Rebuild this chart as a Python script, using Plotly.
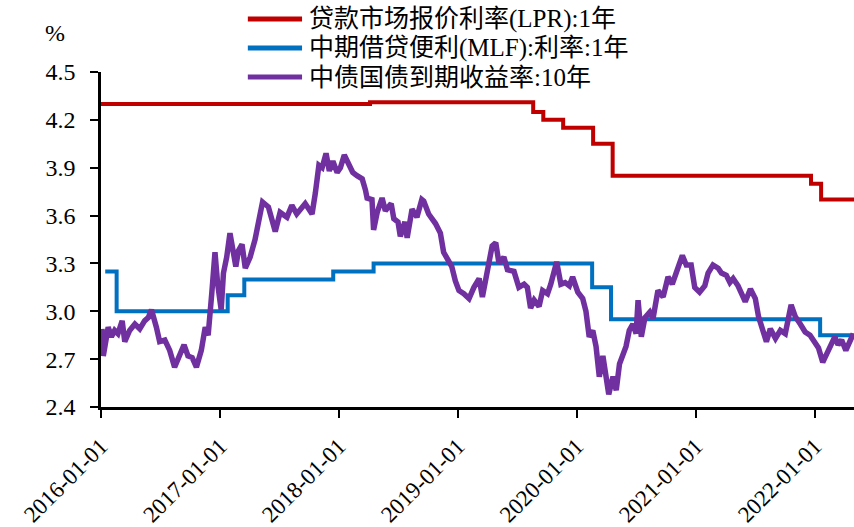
import plotly.graph_objects as go

# 贷款市场报价利率(LPR) 1年 — step series (date of change, new level)
lpr_dates = ["2016-01-01", "2018-04-06", "2019-08-20", "2019-09-20", "2019-11-20",
             "2020-02-20", "2020-04-20", "2021-12-20", "2022-01-20", "2022-05-01"]
lpr_values = [4.30, 4.31, 4.25, 4.20, 4.15, 4.05, 3.85, 3.80, 3.70, 3.70]

# 中期借贷便利(MLF) 1年 — step series
mlf_dates = ["2016-01-14", "2016-02-18", "2017-01-24", "2017-03-16", "2017-12-14",
             "2018-04-17", "2020-02-17", "2020-04-15", "2022-01-17", "2022-05-01"]
mlf_values = [3.25, 3.00, 3.10, 3.20, 3.25, 3.30, 3.15, 2.95, 2.85, 2.85]

# 中债国债到期收益率 10年
cgb_dates = [
    "2016-01-04", "2016-01-08", "2016-01-23", "2016-02-02", "2016-02-12", "2016-02-22",
    "2016-03-06", "2016-03-14", "2016-03-29", "2016-04-14", "2016-04-29", "2016-05-14",
    "2016-05-25", "2016-06-04", "2016-06-19", "2016-06-29", "2016-07-15", "2016-07-30",
    "2016-08-14", "2016-08-30", "2016-09-12", "2016-09-24", "2016-10-07", "2016-10-20",
    "2016-11-04", "2016-11-16", "2016-11-25", "2016-12-06", "2016-12-16", "2016-12-24",
    "2017-01-04", "2017-01-11", "2017-01-21", "2017-01-31", "2017-02-10", "2017-02-18",
    "2017-02-26", "2017-03-09", "2017-03-19", "2017-04-03", "2017-04-18", "2017-04-28",
    "2017-05-11", "2017-05-29", "2017-06-19", "2017-07-04", "2017-07-25", "2017-08-09",
    "2017-08-24", "2017-09-19", "2017-10-04", "2017-10-10", "2017-10-20", "2017-10-31",
    "2017-11-10", "2017-11-22", "2017-12-02", "2017-12-13", "2017-12-26", "2018-01-05",
    "2018-01-17", "2018-01-31", "2018-02-12", "2018-02-25", "2018-03-13", "2018-03-23",
    "2018-03-28", "2018-04-12", "2018-04-17", "2018-04-28", "2018-05-13", "2018-05-23",
    "2018-06-10", "2018-06-18", "2018-07-01", "2018-07-08", "2018-07-22", "2018-07-29",
    "2018-08-13", "2018-08-28", "2018-09-12", "2018-09-18", "2018-10-03", "2018-10-24",
    "2018-11-08", "2018-11-18", "2018-12-03", "2018-12-13", "2018-12-24", "2019-01-04",
    "2019-01-19", "2019-02-04", "2019-02-19", "2019-03-07", "2019-03-17", "2019-04-01",
    "2019-04-16", "2019-04-27", "2019-05-07", "2019-05-22", "2019-06-02", "2019-06-22",
    "2019-07-07", "2019-07-23", "2019-08-02", "2019-08-12", "2019-08-23", "2019-09-07",
    "2019-09-18", "2019-10-03", "2019-10-13", "2019-10-31", "2019-11-13", "2019-11-26",
    "2019-12-09", "2019-12-19", "2020-01-04", "2020-01-19", "2020-01-29", "2020-02-08",
    "2020-02-19", "2020-02-29", "2020-03-10", "2020-03-21", "2020-03-31", "2020-04-08",
    "2020-04-21", "2020-05-01", "2020-05-11", "2020-05-21", "2020-05-31", "2020-06-10",
    "2020-06-21", "2020-07-01", "2020-07-07", "2020-07-17", "2020-07-28", "2020-08-12",
    "2020-08-22", "2020-09-06", "2020-09-22", "2020-10-07", "2020-10-20", "2020-11-01",
    "2020-11-20", "2020-12-02", "2020-12-17", "2020-12-28", "2021-01-12", "2021-01-28",
    "2021-02-07", "2021-02-22", "2021-03-10", "2021-03-20", "2021-04-04", "2021-04-15",
    "2021-04-25", "2021-05-10", "2021-05-20", "2021-06-01", "2021-06-17", "2021-07-02",
    "2021-07-12", "2021-07-23", "2021-08-05", "2021-08-17", "2021-09-02", "2021-09-17",
    "2021-10-02", "2021-10-20", "2021-11-02", "2021-11-17", "2021-12-02", "2021-12-17",
    "2022-01-01", "2022-01-12", "2022-01-25", "2022-02-06", "2022-02-18", "2022-03-03",
    "2022-03-13", "2022-03-24", "2022-04-06", "2022-04-19", "2022-04-29",
]
cgb_values = [
    2.89, 2.72, 2.90, 2.84, 2.88, 2.86,
    2.94, 2.81, 2.88, 2.92, 2.89, 2.94,
    2.96, 3.01, 2.90, 2.81, 2.82, 2.755,
    2.65, 2.735, 2.79, 2.72, 2.71, 2.65,
    2.755, 2.90, 2.85, 3.11, 3.37, 3.175,
    3.01, 3.24, 3.34, 3.49, 3.38, 3.28,
    3.38, 3.42, 3.27, 3.34, 3.45, 3.57,
    3.685, 3.654, 3.50, 3.62, 3.59, 3.664,
    3.61, 3.675, 3.62, 3.61, 3.74, 3.915,
    3.90, 3.99, 3.88, 3.94, 3.87, 3.90,
    3.98, 3.915, 3.87, 3.85, 3.83, 3.76,
    3.71, 3.70, 3.51, 3.62, 3.71, 3.63,
    3.675, 3.58, 3.56, 3.47, 3.56, 3.46,
    3.64, 3.59, 3.70, 3.69, 3.61, 3.55,
    3.49, 3.37, 3.32, 3.28, 3.19, 3.13,
    3.11, 3.08, 3.15, 3.205, 3.09, 3.26,
    3.41, 3.43, 3.30, 3.34, 3.26, 3.25,
    3.15, 3.17, 3.15, 3.02, 3.07, 3.03,
    3.13, 3.11, 3.17, 3.31, 3.17, 3.18,
    3.16, 3.215, 3.12, 3.08, 3.00, 2.84,
    2.88, 2.78, 2.59, 2.72, 2.57, 2.48,
    2.59, 2.505, 2.67, 2.735, 2.78, 2.88,
    2.92, 2.86, 3.07, 2.84, 2.96, 2.995,
    2.955, 3.13, 3.09, 3.215, 3.17, 3.24,
    3.35, 3.29, 3.29, 3.15, 3.12, 3.16,
    3.24, 3.29, 3.27, 3.24, 3.225, 3.18,
    3.205, 3.16, 3.11, 3.06, 3.14, 3.08,
    2.965, 2.90, 2.81, 2.89, 2.83, 2.88,
    2.86, 3.04, 2.965, 2.92, 2.87, 2.85,
    2.80, 2.77, 2.68, 2.735, 2.80, 2.84,
    2.79, 2.82, 2.755, 2.82, 2.86,
]

series_names = ["贷款市场报价利率(LPR):1年", "中期借贷便利(MLF):利率:1年", "中债国债到期收益率:10年"]
series_colors = ["#C00000", "#0070C0", "#7030A0"]

y_ticks = [2.4, 2.7, 3.0, 3.3, 3.6, 3.9, 4.2, 4.5]
x_ticks = ["2016-01-01", "2017-01-01", "2018-01-01", "2019-01-01",
           "2020-01-01", "2021-01-01", "2022-01-01"]

FONT = "Liberation Serif, 'Noto Sans CJK SC', serif"

fig = go.Figure()
fig.add_trace(go.Scatter(x=lpr_dates, y=lpr_values, mode="lines", line_shape="hv",
                         name=series_names[0], line=dict(color=series_colors[0], width=4)))
fig.add_trace(go.Scatter(x=mlf_dates, y=mlf_values, mode="lines", line_shape="hv",
                         name=series_names[1], line=dict(color=series_colors[1], width=4)))
fig.add_trace(go.Scatter(x=cgb_dates, y=cgb_values, mode="lines",
                         name=series_names[2], line=dict(color=series_colors[2], width=5.5)))

# legend drawn as line samples + labels above the plot area
legend_rows_y = [1.158, 1.0716, 0.985]
for name, color, yy in zip(series_names, series_colors, legend_rows_y):
    fig.add_shape(type="line", xref="paper", yref="paper",
                  x0=0.195, x1=0.267, y0=yy, y1=yy,
                  line=dict(color=color, width=5))
    fig.add_annotation(xref="paper", yref="paper", x=0.273, y=yy,
                       xanchor="left", yanchor="middle", showarrow=False,
                       text=name, font=dict(family=FONT, size=25, color="black"))

fig.add_annotation(xref="paper", yref="paper", x=-0.061, y=1.116,
                   xanchor="center", yanchor="middle", showarrow=False,
                   text="%", font=dict(family=FONT, size=24, color="black"))

fig.update_layout(
    width=854, height=527,
    margin=dict(l=101, r=0, t=72, b=120),
    paper_bgcolor="white", plot_bgcolor="white",
    showlegend=False,
    font=dict(family=FONT, size=24, color="black"),
)
fig.update_xaxes(
    type="date", range=["2016-01-01", "2022-05-01"],
    tickvals=x_ticks, ticktext=x_ticks, tickangle=-45,
    showgrid=False, zeroline=False,
    showline=True, linecolor="black", linewidth=2.5,
    ticks="outside", ticklen=8, tickwidth=2, tickcolor="black",
    ticklabelstandoff=6,
    tickfont=dict(family=FONT, size=23, color="black"),
)
fig.update_yaxes(
    range=[2.4, 4.5], tickvals=y_ticks, ticktext=[f"{v:.1f}" for v in y_ticks],
    showgrid=False, zeroline=False,
    showline=True, linecolor="black", linewidth=2.5,
    ticks="outside", ticklen=8, tickwidth=2, tickcolor="black",
    ticklabelstandoff=10,
    tickfont=dict(family=FONT, size=24, color="black"),
)

fig.write_html("out.html")
